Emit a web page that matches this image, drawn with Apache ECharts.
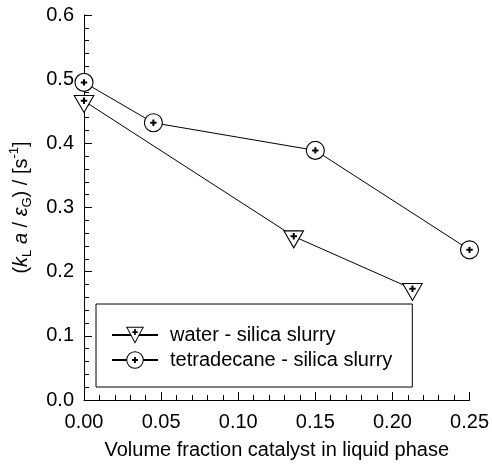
<!DOCTYPE html>
<html>
<head>
<meta charset="utf-8">
<script src="https://cdn.jsdelivr.net/npm/echarts@6/dist/echarts.min.js"></script>
<style>html,body{margin:0;padding:0;background:#fff}#c{width:492px;height:465px}</style>
</head>
<body>
<div id="c"></div>
<script>
var seriesNames = ['water - silica slurry', 'tetradecane - silica slurry'];
var waterX = [0.0, 0.136, 0.213];
var waterY = [0.466, 0.255, 0.173];
var tetraX = [0.0, 0.045, 0.15, 0.25];
var tetraY = [0.495, 0.432, 0.389, 0.234];
var xTicks = [0, 0.05, 0.10, 0.15, 0.20, 0.25];
var yTicks = [0, 0.1, 0.2, 0.3, 0.4, 0.5, 0.6];

function pairs(xs, ys) { return xs.map(function (x, i) { return [x, ys[i]]; }); }
function svgUri(s) { return 'image://data:image/svg+xml;charset=utf-8,' + encodeURIComponent(s); }

var triSvg = '<svg xmlns="http://www.w3.org/2000/svg" width="44" height="40" viewBox="0 0 22 20">' +
  '<polygon points="1.2,1.5 20.8,1.5 11,18.5" fill="#fff" stroke="#000" stroke-width="1.1" stroke-linejoin="miter"/>' +
  '<path d="M11,3.6 V10 M7.8,6.8 H14.2" stroke="#000" stroke-width="2" fill="none"/></svg>';
var circSvg = '<svg xmlns="http://www.w3.org/2000/svg" width="40" height="40" viewBox="0 0 20 20">' +
  '<circle cx="10" cy="10" r="9" fill="#fff" stroke="#000" stroke-width="1.1"/>' +
  '<path d="M10,6.8 V13.2 M6.8,10 H13.2" stroke="#000" stroke-width="2" fill="none"/></svg>';

var chart = echarts.init(document.getElementById('c'), null, { renderer: 'canvas' });
var font = 'Liberation Sans, Arial, Helvetica, sans-serif';
chart.setOption({
  animation: false,
  backgroundColor: '#fff',
  textStyle: { fontFamily: font, color: '#000' },
  grid: { left: 84, right: 22, top: 15, bottom: 65 },
  legend: {
    orient: 'vertical', left: 96, top: 304,
    padding: [21, 20, 17, 15],
    borderColor: '#000', borderWidth: 1,
    itemWidth: 46, itemHeight: 23, itemGap: 5,
    textStyle: { fontSize: 20, color: '#000', fontFamily: font, padding: [0, 0, 0, 7] },
    data: seriesNames
  },
  xAxis: {
    type: 'value', min: 0, max: 0.25, interval: 0.05,
    name: 'Volume fraction catalyst in liquid phase',
    nameLocation: 'middle', nameGap: 40,
    nameTextStyle: { fontSize: 20, color: '#000', fontFamily: font },
    axisLine: { show: true, lineStyle: { color: '#000', width: 1 } },
    axisTick: { show: true, inside: true, length: 8, lineStyle: { color: '#000' } },
    minorTick: { show: true, splitNumber: 5, length: 5, lineStyle: { color: '#000' } },
    splitLine: { show: false },
    axisLabel: { fontSize: 20, color: '#000', margin: 12, formatter: function (v) { return v.toFixed(2); } }
  },
  yAxis: {
    type: 'value', min: 0, max: 0.6, interval: 0.1,
    name: '{p|(}{i|k}{s|L}{p| }{i|a}{p| / }{i|ε}{s|G}{p|) / [s}{u|-1}{p|]}',
    nameLocation: 'middle', nameGap: 50, nameRotate: 90,
    nameTextStyle: {
      fontSize: 20, color: '#000', fontFamily: font,
      rich: {
        p: { fontSize: 20, lineHeight: 26, fontFamily: font, color: '#000' },
        i: { fontSize: 20, lineHeight: 26, fontStyle: 'italic', fontFamily: font, color: '#000' },
        s: { fontSize: 13, lineHeight: 13, verticalAlign: 'bottom', fontFamily: font, color: '#000' },
        u: { fontSize: 13, lineHeight: 13, verticalAlign: 'top', fontFamily: font, color: '#000' }
      }
    },
    axisLine: { show: true, lineStyle: { color: '#000', width: 1 } },
    axisTick: { show: true, inside: true, length: 8, lineStyle: { color: '#000' } },
    minorTick: { show: true, splitNumber: 5, length: 5, lineStyle: { color: '#000' } },
    splitLine: { show: false },
    axisLabel: { fontSize: 20, color: '#000', margin: 10, formatter: function (v) { return v.toFixed(1); } }
  },
  series: [
    {
      name: seriesNames[0], type: 'line', data: pairs(waterX, waterY),
      symbol: svgUri(triSvg), symbolSize: [22, 20], symbolOffset: [0, 3],
      lineStyle: { color: '#000', width: 1 }, itemStyle: { color: '#000' },
      z: 3
    },
    {
      name: seriesNames[1], type: 'line', data: pairs(tetraX, tetraY),
      symbol: svgUri(circSvg), symbolSize: 20,
      lineStyle: { color: '#000', width: 1 }, itemStyle: { color: '#000' },
      z: 3
    }
  ]
});
</script>
</body>
</html>
